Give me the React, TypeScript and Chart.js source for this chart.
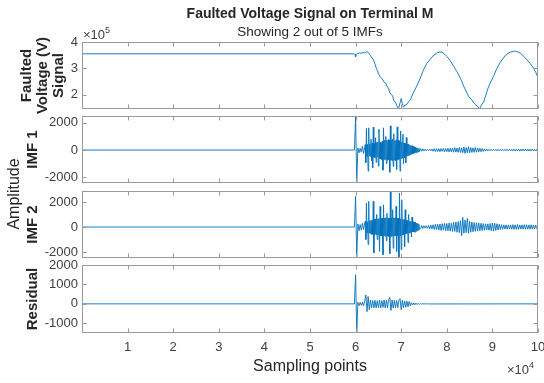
import { useEffect, useRef } from 'react';
import { Chart, registerables } from 'chart.js';

Chart.register(...registerables);

const FONT = "'Liberation Sans', Arial, Helvetica, sans-serif";
const LINE = '#0072BD';
const FRAME = '#9a9a9a';
const TICK_TEXT = '#404040';
const LABEL_TEXT = '#262626';

// ---------------- data ----------------
const sampleMax = 100000;
const preFaultEnd = 59750;
const faultStart = 60000; // coarse samples, step 250
const burstStart = 62125; // dense samples, step 125
const tailStart = 74250; // coarse samples, step 250
const coarseStep = 250;
const burstStep = 125;

const xTickValues = [10000, 20000, 30000, 40000, 50000, 60000, 70000, 80000, 90000, 100000];
const voltageTicks = [200000, 300000, 400000];
const imf1Ticks = [-2000, 0, 2000];
const imf2Ticks = [-2000, 0, 2000];
const residualTicks = [-1000, 0, 1000, 2000];

const voltageRange = [145000, 400000];
const imf1Range = [-2420, 2500];
const imf2Range = [-2480, 2880];
const residualRange = [-1500, 2000];

const voltageX = [
  0, 59750, 59900, 60000, 60150, 60400, 60800, 61200, 61600, 62000,
  62300, 62600, 62900, 63200, 63600, 63900, 64200, 64500, 64800, 65100,
  65400, 65700, 66000, 66300, 66600, 66900, 67200, 67500, 67800, 68100,
  68400, 68700, 69000, 69200, 69400, 69700, 70000, 70250, 70500, 70800,
  71200, 71600, 72000, 72600, 73400, 74200, 74900, 75600, 76400, 77000,
  77800, 78400, 78900, 79400, 80000, 80800, 81500, 82200, 83000, 83700,
  84300, 84800, 85400, 85900, 86400, 86800, 87200, 87600, 88100, 88600,
  89000, 89500, 90200, 91000, 91800, 92800, 93700, 94600, 95300, 96100,
  96900, 97600, 98300, 99000, 99500, 100000,
];
const voltageY = [
  355000, 355000, 352000, 344000, 353000, 356000, 358000, 357000, 360000, 358000,
  362000, 363000, 357000, 350000, 340000, 333000, 318000, 302000, 290000, 276000,
  268000, 262000, 255000, 246000, 244000, 230000, 226000, 208000, 200000, 196000,
  176000, 172000, 160000, 152000, 145000, 165000, 185000, 165000, 152000, 160000,
  162000, 172000, 180000, 205000, 232000, 263000, 295000, 318000, 335000, 348000,
  358000, 362000, 361000, 356000, 345000, 328000, 308000, 288000, 262000, 232000,
  210000, 192000, 182000, 168000, 160000, 155000, 145000, 160000, 172000, 200000,
  222000, 243000, 268000, 300000, 325000, 348000, 360000, 365000, 364000, 358000,
  345000, 332000, 318000, 301000, 285000, 264000,
];

// IMF 1
const imf1Onset = [2500, -2420, 150, -200, 120, -150, 300, -250, 200];
const imf1Burst = [
  400, -935, 1585, -450, 420, -1550, 1630, -400, 450, -480,
  800, -800, 500, -1300, 1680, -520, 480, -550, 900, -900,
  560, -500, 600, -1185, 1530, -620, 580, -650, 540, -700,
  650, -1480, 1630, -700, 720, -680, 1000, -1000, 700, -750,
  760, -700, 720, -1630, 1780, -750, 700, -780, 800, -1200,
  1200, -720, 680, -800, 750, -1420, 1700, -700, 720, -680,
  650, -1550, 1400, -620, 600, -580, 1160, -1000, 520, -560,
  480, -935, 920, -450, 420, -400, 450, -380, 360, -340,
  330, -300, 320, -280, 260, -250, 230, -210, 200, -190,
  170, -160, 150, -140, 120, -110,
];
const imf1Tail = [
  100, -90, 80, -70, 60, -60, 50, -50, 60, -60, 80, -90, 100, -110,
  100, -110, 100, -120, 110, -100, 120, -130, 110, -120,
  130, -140, 120, -130, 150, -160, 180, -150, 140, -170,
  200, -180, 160, -190, 220, -250, 180, -200, 240, -210,
  180, -170, 160, -170, 190, -160, 150, -140, 130, -120,
  110, -100, 90, -80, 70,
  -60, 50, -55, 45, -50, 55, -45, 50, -60, 55,
  -50, 45, -55, 50, -45, 55, -50, 60, -55, 50,
  -60, 55, -65, 60, -70, 65, -60, 70, -75, 65,
  -70, 75, -65, 70, -80, 75, -70, 65, -75, 70,
  -65, 60, -70, 65, -60,
];

// IMF 2
const imf2Onset = [2450, -2400, 250, -300, 200, -250, 300, -200, 350];
const imf2Burst = [
  450, -1000, 1920, -450, 420, -1400, 2050, -480, 500, -520,
  550, -600, 520, -580, 2050, -2080, 600, -580, 650, -620,
  1000, -1000, 650, -620, 680, -1950, 1650, -700, 680, -720,
  700, -2220, 1780, -700, 720, -740, 750, -1100, 1100, -720,
  700, -750, 720, -2140, 2850, -760, 700, -720, 1380, -1700,
  720, -700, 750, -700, 1650, -1950, 700, -680, 700, -2400,
  2720, -680, 650, -1820, 2180, -640, 600, -620, 600, -1560,
  1380, -560, 520, -500, 520, -1250, 1000, -480, 460, -440,
  450, -800, 800, -400, 420, -380, 400, -420, 360, -340,
  320, -300, 280, -250, 220, -180,
];
const imf2Tail = [
  -130, 120, -110, 100, -90, 100, -110, 120, -130, 150, -160, 180, -200, 220,
  -200, 220, -250, 240, -280, 260, -250, 300, -300, 280,
  -300, 320, -330, 300, -350, 380, -350, 400, -420, 450,
  -450, 500, -700, 770, -500, 550, -450, 680, -500, 450,
  -420, 400, -380, 360, -350, 340, -330, 320, -300, 300,
  -280, 270, -260, 250, -240,
  250, -260, 280, -300, 320, -330, 300, -280, 260, -240,
  220, -200, 190, -180, 170, -160, 170, -180, 170, -160,
  170, -180, 190, -180, 170, -190, 200, -180, 170, -160,
  170, -180, 190, -170, 180, -170, 160, -170, 180, -170,
  160, -150, 160, -150, 160,
];

// Residual, sampled every coarseStep from faultStart
const residualValues = [
  1500, -1500, 80, -90, 70, -80, 90, -100, 150,
  460, -400, 380, -300, 200, -220, 170, -200, 180, -210,
  160, -190, 200, -220, 170, -180, 200, -210, 190, -200,
  230, 330, -340, 200, -220, 180, -200, 170, -190, 200,
  270, -300, 180, -200, 150, -170, 140, -150, 120, -100,
  60, -60, 50, -50, 40, -40, 30, -30,
  20, -20, 15, -15, 10, -10, 5, -5,
];

function segment(values: number[], start: number, stepSize: number) {
  return values.map((v, i) => ({ x: start + i * stepSize, y: v }));
}

function imfSeries(onset: number[], burst: number[], tail: number[]) {
  return [
    { x: 0, y: 0 },
    { x: preFaultEnd, y: 0 },
    ...segment(onset, faultStart, coarseStep),
    ...segment(burst, burstStart, burstStep),
    ...segment(tail, tailStart, coarseStep),
  ];
}

function residualSeries(values: number[]) {
  const pts = [{ x: 0, y: 0 }, { x: preFaultEnd, y: 0 }, ...segment(values, faultStart, coarseStep)];
  pts.push({ x: sampleMax, y: 0 });
  return pts;
}

const voltageData = voltageX.map((x, i) => ({ x, y: voltageY[i] }));
const imf1Data = imfSeries(imf1Onset, imf1Burst, imf1Tail);
const imf2Data = imfSeries(imf2Onset, imf2Burst, imf2Tail);
const residualData = residualSeries(residualValues);

// ---------------- layout ----------------
const W = 544;
const H = 383;
const AXIS_W = 82;
const PAD_R = 6;
const TICK_LEN = 4;
const X_AXIS_H = 50;

type Panel = {
  data: { x: number; y: number }[];
  ticks: number[];
  range: number[];
  label: string[];
  labelPad: number;
  fmt: (v: number) => string;
  top: number;
  bottom: number;
  first?: boolean;
  last?: boolean;
  amplitude?: boolean;
};

const panels: Panel[] = [
  { data: voltageData, ticks: voltageTicks, range: voltageRange, label: ['Faulted', 'Voltage (V)', 'Signal'], labelPad: 19, fmt: (v) => String(v / 100000), top: 42, bottom: 109, first: true },
  { data: imf1Data, ticks: imf1Ticks, range: imf1Range, label: ['IMF 1'], labelPad: 25, fmt: (v) => String(v), top: 116, bottom: 183 },
  { data: imf2Data, ticks: imf2Ticks, range: imf2Range, label: ['IMF 2'], labelPad: 25, fmt: (v) => String(v), top: 191, bottom: 258, amplitude: true },
  { data: residualData, ticks: residualTicks, range: residualRange, label: ['Residual'], labelPad: 25, fmt: (v) => String(v), top: 265, bottom: 333, last: true },
];

const framePlugin = {
  id: 'matlabFrame',
  afterDatasetsDraw(chart: any) {
    const { ctx, chartArea: a, scales } = chart;
    const L = Math.round(a.left) + 0.5;
    const R = Math.round(a.right) - 0.5;
    const T = Math.round(a.top) + 0.5;
    const B = Math.round(a.bottom) - 0.5;
    ctx.save();
    ctx.strokeStyle = FRAME;
    ctx.lineWidth = 1;
    ctx.strokeRect(L, T, R - L, B - T);
    ctx.beginPath();
    for (const t of scales.y.ticks) {
      const y = Math.round(scales.y.getPixelForValue(t.value)) + 0.5;
      ctx.moveTo(L, y); ctx.lineTo(L + TICK_LEN, y);
      ctx.moveTo(R, y); ctx.lineTo(R - TICK_LEN, y);
    }
    for (const v of xTickValues) {
      const x = Math.round(scales.x.getPixelForValue(v)) + 0.5;
      ctx.moveTo(x, T); ctx.lineTo(x, T + TICK_LEN);
      ctx.moveTo(x, B); ctx.lineTo(x, B - TICK_LEN);
    }
    ctx.stroke();
    ctx.restore();
  },
};

function exponentText(ctx: CanvasRenderingContext2D, x: number, y: number, exp: string) {
  ctx.save();
  ctx.fillStyle = TICK_TEXT;
  ctx.textAlign = 'left';
  ctx.textBaseline = 'alphabetic';
  ctx.font = `13px ${FONT}`;
  ctx.fillText('×10', x, y);
  const w = ctx.measureText('×10').width;
  ctx.font = `9px ${FONT}`;
  ctx.fillText(exp, x + w, y - 6);
  ctx.restore();
}

function makeConfig(p: Panel): any {
  const extra = {
    id: 'extraText',
    afterDraw(chart: any) {
      const { ctx, chartArea: a } = chart;
      if (p.first) exponentText(ctx, a.left + 1, a.top - 3, '5');
      if (p.last) exponentText(ctx, 507, 374, '4');
      if (p.amplitude) {
        ctx.save();
        ctx.translate(15, 194);
        ctx.rotate(-Math.PI / 2);
        ctx.fillStyle = LABEL_TEXT;
        ctx.font = `16px ${FONT}`;
        ctx.textAlign = 'center';
        ctx.textBaseline = 'middle';
        ctx.fillText('Amplitude', 0, 0);
        ctx.restore();
      }
    },
  };
  return {
    type: 'line',
    data: {
      datasets: [
        { data: p.data, borderColor: LINE, borderWidth: 0.9, pointRadius: 0, tension: 0, fill: false },
      ],
    },
    options: {
      animation: false,
      responsive: false,
      devicePixelRatio: 1,
      events: [],
      parsing: false,
      normalized: true,
      layout: {
        padding: {
          left: 0,
          right: PAD_R,
          top: p.first ? 0 : p.top,
          bottom: p.last ? H - p.bottom - X_AXIS_H : H - p.bottom,
        },
      },
      plugins: {
        legend: { display: false },
        tooltip: { enabled: false },
        decimation: { enabled: false },
        title: {
          display: !!p.first,
          fullSize: false,
          text: 'Faulted Voltage Signal on Terminal M',
          color: LABEL_TEXT,
          font: { family: FONT, size: 14, weight: 'bold', lineHeight: 1.2 },
          padding: { top: 6, bottom: 0 },
        },
        subtitle: {
          display: !!p.first,
          fullSize: false,
          text: 'Showing 2 out of 5 IMFs',
          color: LABEL_TEXT,
          font: { family: FONT, size: 13.5, weight: 'normal', lineHeight: 1.2 },
          padding: { top: 1, bottom: 2 },
        },
      },
      scales: {
        x: {
          type: 'linear',
          min: 0,
          max: sampleMax,
          display: !!p.last,
          afterBuildTicks: (s: any) => { s.ticks = xTickValues.map((v) => ({ value: v })); },
          afterFit: (s: any) => {
            s.height = p.last ? X_AXIS_H : 0;
            s.paddingLeft = 0;
            s.paddingRight = 0;
          },
          grid: { display: false, drawTicks: false },
          border: { display: false },
          ticks: {
            autoSkip: false,
            maxRotation: 0,
            padding: 7,
            color: TICK_TEXT,
            font: { family: FONT, size: 13 },
            callback: (v: any) => String(Number(v) / 10000),
          },
          title: {
            display: true,
            text: 'Sampling points',
            color: LABEL_TEXT,
            font: { family: FONT, size: 16, lineHeight: 1.2 },
            padding: { top: 0, bottom: 7.2 },
          },
        },
        y: {
          type: 'linear',
          min: p.range[0],
          max: p.range[1],
          afterBuildTicks: (s: any) => { s.ticks = p.ticks.map((v) => ({ value: v })); },
          afterFit: (s: any) => { s.width = AXIS_W; },
          grid: { display: false, drawTicks: false },
          border: { display: false },
          ticks: {
            autoSkip: false,
            padding: 4,
            color: TICK_TEXT,
            font: { family: FONT, size: 13 },
            callback: (v: any) => p.fmt(Number(v)),
          },
          title: {
            display: true,
            text: p.label.length === 1 ? p.label[0] : p.label,
            color: LABEL_TEXT,
            font: { family: FONT, size: 15, weight: 'bold', lineHeight: '16px' },
            padding: { top: p.labelPad, bottom: 0 },
          },
        },
      },
    },
    plugins: [framePlugin, extra],
  };
}

function PanelCanvas({ panel }: { panel: Panel }) {
  const ref = useRef<HTMLCanvasElement | null>(null);
  useEffect(() => {
    if (!ref.current) return;
    const chart = new Chart(ref.current, makeConfig(panel));
    return () => chart.destroy();
  }, [panel]);
  return (
    <canvas
      ref={ref}
      width={W}
      height={H}
      style={{ position: 'absolute', left: 0, top: 0, width: W, height: H }}
    />
  );
}

export default function App() {
  return (
    <div style={{ position: 'fixed', left: 0, top: 0, width: W, height: H, background: '#ffffff', overflow: 'hidden' }}>
      {panels.map((p, i) => (
        <PanelCanvas key={i} panel={p} />
      ))}
    </div>
  );
}
